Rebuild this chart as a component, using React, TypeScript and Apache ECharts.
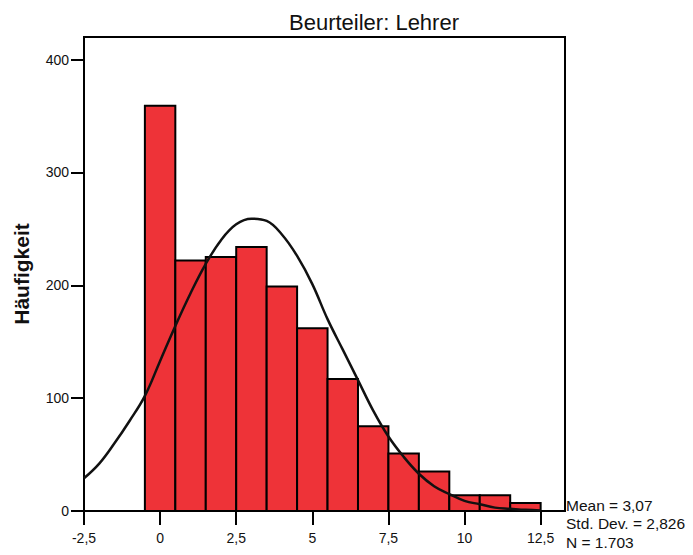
import React, { useEffect, useRef } from "react";
import * as echarts from "echarts";

// Histogram bins (bin centres, width 1) and counts
const binCenters = [0, 1, 2, 3, 4, 5, 6, 7, 8, 9, 10, 11, 12];
const binCounts = [359, 222, 225, 234, 199, 162, 117, 75, 51, 35, 14, 14, 7];

// Normal curve (x value, height)
const curveX = [-2.5, -2, -1.5, -1, -0.5, 0, 0.5, 1, 1.5, 2, 2.5, 3, 3.5, 4, 4.5, 5, 5.5, 6, 6.5, 7, 7.5, 8, 8.5, 9, 9.5, 10, 10.5, 11, 11.5, 12, 12.5];
const curveY = [29, 42, 60, 80, 102, 133, 164, 193, 219, 240, 254, 259, 257, 245, 226, 201, 170, 143, 116, 89, 66, 48, 33, 22, 15, 9, 6, 3, 2, 1, 0.5];

const xTicks = [-2.5, 0, 2.5, 5, 7.5, 10, 12.5];
const yTicks = [0, 100, 200, 300, 400];

const titleText = "Beurteiler: Lehrer";
const yAxisName = "Häufigkeit";
const statsLines = ["Mean = 3,07", "Std. Dev. = 2,826", "N = 1.703"];

const FONT = "'Liberation Sans', Arial, sans-serif";

export default function App() {
  const ref = useRef<HTMLDivElement>(null);

  useEffect(() => {
    if (!ref.current) return;
    const chart = echarts.init(ref.current, null, { renderer: "svg" });

    const barData = binCenters.map((c, i) => [c, binCounts[i]]);
    const curveData = curveX.map((x, i) => [x, curveY[i]]);

    const option: any = {
      animation: false,
      backgroundColor: "#ffffff",
      textStyle: { fontFamily: FONT },
      grid: {
        left: 84,
        right: 128,
        top: 37,
        bottom: 44,
        show: true,
        borderColor: "#000",
        borderWidth: 2,
        backgroundColor: "transparent",
      },
      xAxis: {
        type: "value",
        min: -2.5,
        max: 13.3,
        axisLine: { show: true, onZero: false, lineStyle: { color: "#000", width: 2 } },
        axisTick: { show: true, customValues: xTicks, length: 14, lineStyle: { color: "#000", width: 2 } },
        axisLabel: {
          customValues: xTicks,
          color: "#111",
          fontSize: 14,
          fontFamily: FONT,
          margin: 20,
          formatter: (v: number) => String(v).replace(".", ","),
        },
        splitLine: { show: false },
      },
      yAxis: {
        type: "value",
        min: 0,
        max: 420,
        name: yAxisName,
        nameLocation: "middle",
        nameRotate: 90,
        nameGap: 52,
        nameTextStyle: { fontSize: 21, fontWeight: "bold", color: "#111", fontFamily: FONT },
        axisLine: { show: true, onZero: false, lineStyle: { color: "#000", width: 2 } },
        axisTick: { show: true, customValues: yTicks, length: 13, lineStyle: { color: "#000", width: 2 } },
        axisLabel: {
          customValues: yTicks,
          color: "#111",
          fontSize: 14,
          fontFamily: FONT,
          margin: 15,
        },
        splitLine: { show: false },
      },
      graphic: [
        {
          type: "text",
          x: 374,
          y: 22,
          style: {
            text: titleText,
            fontSize: 22,
            fontFamily: FONT,
            fill: "#111",
            textAlign: "center",
            textVerticalAlign: "middle",
          },
        },
        ...statsLines.map((t, i) => ({
          type: "text",
          x: 566,
          y: 505 + i * 18.5,
          style: {
            text: t,
            fontSize: 15.5,
            fontFamily: FONT,
            fill: "#111",
            textAlign: "left",
            textVerticalAlign: "middle",
          },
        })),
      ],
      series: [
        {
          type: "custom",
          data: barData,
          encode: { x: 0, y: 1 },
          renderItem: (params: any, api: any) => {
            const c = api.value(0);
            const v = api.value(1);
            const p0 = api.coord([c - 0.5, v]);
            const p1 = api.coord([c + 0.5, 0]);
            return {
              type: "rect",
              shape: { x: p0[0], y: p0[1], width: p1[0] - p0[0], height: p1[1] - p0[1] },
              style: { fill: "#EE3338", stroke: "#000", lineWidth: 2 },
            };
          },
          z: 2,
        },
        {
          type: "line",
          data: curveData,
          smooth: 0.4,
          showSymbol: false,
          symbol: "none",
          lineStyle: { color: "#111", width: 2.5 },
          z: 3,
        },
      ],
    };

    chart.setOption(option);
    return () => chart.dispose();
  }, []);

  return <div ref={ref} style={{ width: 693, height: 555, position: "absolute", left: 0, top: 0 }} />;
}
